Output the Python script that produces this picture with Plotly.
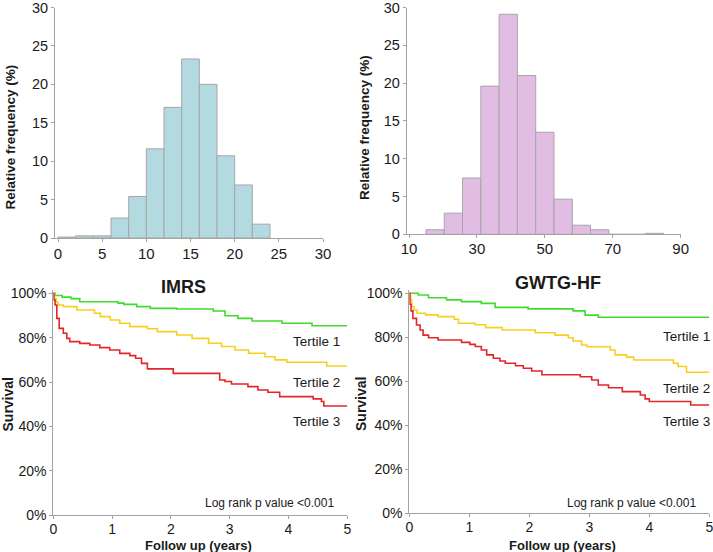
import plotly.graph_objects as go

W, H = 713, 552
PAD = 10                    # extra paper so edge tick labels are not dropped
PW, PH = W + PAD, H + PAD
FONT = "Liberation Sans, Arial, sans-serif"
TXT = "#1a1a1a"
AX = "#a3a3a3"

# ---------------- data ----------------
imrs_edges = [0, 2, 4, 6, 8, 10, 12, 14, 16, 18, 20, 22, 24]
imrs_freq = [0.12, 0.28, 0.28, 2.6, 5.4, 11.6, 17.0, 23.3, 20.0, 10.7, 6.9, 1.8]

gwtg_edges = [15.0, 20.38, 25.77, 31.15, 36.54, 41.92, 47.31, 52.69, 58.08, 63.46, 68.85, 74.23, 79.62, 85.0]
gwtg_freq = [0.6, 2.8, 7.45, 19.6, 29.1, 21.0, 13.5, 4.65, 1.2, 0.6, 0.0, 0.0, 0.13]

imrs_t1_t = [0, 0.03, 0.15, 0.3, 0.45, 1.1, 1.2, 1.42, 1.65, 2.1, 2.72, 2.92, 3.14, 3.38, 3.89, 4.4, 5.0]
imrs_t1_s = [100, 99.0, 98.3, 97.6, 96.2, 95.6, 95.0, 94.0, 93.2, 92.9, 92.0, 89.9, 88.7, 87.5, 86.5, 85.4, 85.4]

imrs_t2_t = [0, 0.02, 0.05, 0.08, 0.17, 0.4, 0.7, 0.8, 0.97, 1.13, 1.3, 1.6, 1.77, 2.1, 2.36, 2.64, 2.86, 3.09, 3.32, 3.6, 3.77, 3.97, 4.65, 5.0]
imrs_t2_s = [100, 97.5, 96.0, 94.7, 94.0, 92.5, 91.0, 89.5, 88.0, 86.5, 85.0, 84.0, 82.7, 81.2, 79.7, 77.5, 76.0, 74.4, 73.0, 71.4, 70.0, 68.9, 67.2, 67.2]

imrs_t3_t = [0, 0.01, 0.03, 0.06, 0.1, 0.17, 0.23, 0.28, 0.45, 0.62, 0.79, 0.96, 1.13, 1.3, 1.4, 1.5, 1.6, 2.04, 2.83, 2.92, 3.03, 3.31, 3.48, 3.65, 3.85, 4.42, 4.56, 4.6, 5.0]
imrs_t3_s = [100, 97.0, 94.7, 88.7, 84.2, 82.0, 79.7, 78.2, 77.4, 76.7, 75.5, 74.4, 72.9, 71.9, 70.7, 68.4, 65.9, 63.9, 60.9, 60.2, 59.1, 57.9, 56.4, 55.4, 53.4, 52.4, 51.2, 49.2, 49.2]

gwtg_t1_t = [0, 0.15, 0.32, 0.62, 0.87, 1.2, 1.43, 1.98, 2.73, 2.93, 3.15, 5.0]
gwtg_t1_s = [100, 99.2, 98.0, 97.0, 96.2, 95.4, 93.6, 92.9, 92.0, 90.1, 89.1, 89.1]

gwtg_t2_t = [0, 0.02, 0.04, 0.08, 0.13, 0.27, 0.48, 0.75, 0.82, 1.1, 1.27, 1.55, 2.1, 2.43, 2.65, 2.73, 2.87, 2.96, 3.35, 3.43, 3.62, 3.74, 4.4, 4.48, 4.62, 5.0]
gwtg_t2_s = [100, 97.0, 94.0, 92.4, 90.9, 90.2, 89.4, 88.2, 86.4, 85.7, 84.4, 83.3, 82.1, 81.0, 79.8, 78.3, 76.5, 75.7, 74.2, 72.0, 71.0, 69.7, 68.2, 66.7, 64.1, 64.1]

gwtg_t3_t = [0, 0.01, 0.03, 0.06, 0.12, 0.18, 0.23, 0.32, 0.48, 0.87, 1.01, 1.10, 1.2, 1.29, 1.4, 1.51, 1.6, 1.77, 1.9, 2.04, 2.21, 2.85, 3.04, 3.15, 3.32, 3.55, 3.85, 3.93, 4.0, 4.69, 5.0]
gwtg_t3_s = [100, 95.0, 92.0, 88.6, 85.6, 83.3, 81.0, 79.8, 78.8, 77.7, 76.8, 75.8, 74.2, 72.0, 70.5, 69.2, 68.2, 67.1, 65.9, 64.7, 63.0, 62.1, 60.6, 58.3, 57.1, 55.3, 53.8, 52.0, 50.8, 49.2, 49.2]

hist_y_ticks = [0, 5, 10, 15, 20, 25, 30]
imrs_x_ticks = [0, 5, 10, 15, 20, 25, 30]
gwtg_x_ticks = [10, 30, 50, 70, 90]
km_x_ticks = [0, 1, 2, 3, 4, 5]
km_y_ticks = [0, 20, 40, 60, 80, 100]
km_y_labels = ["0%", "20%", "40%", "60%", "80%", "100%"]

tertile_labels = ["Tertile 1", "Tertile 2", "Tertile 3"]
km_titles = ["IMRS", "GWTG-HF"]
pval_text = "Log rank p value <0.001"

GREEN, YELLOW, RED = "#3fdc2c", "#f6cf1f", "#e4262b"
BLUE_FILL, PINK_FILL = "#b3d9e1", "#e1bde4"

# ---------------- figure ----------------
fig = go.Figure()

def bars(edges, freq, color, xa, ya):
    centers = [(edges[i] + edges[i + 1]) / 2 for i in range(len(freq))]
    widths = [edges[i + 1] - edges[i] for i in range(len(freq))]
    fig.add_trace(go.Bar(x=centers, y=freq, width=widths, xaxis=xa, yaxis=ya,
                         marker=dict(color=color, line=dict(color="#a6a6a6", width=1)),
                         showlegend=False, hoverinfo="skip"))

bars(imrs_edges, imrs_freq, BLUE_FILL, "x", "y")
bars(gwtg_edges, gwtg_freq, PINK_FILL, "x2", "y2")

def km(t, s, color, xa, ya):
    fig.add_trace(go.Scatter(x=t, y=s, mode="lines", line=dict(color=color, width=1.6, shape="hv"),
                             xaxis=xa, yaxis=ya, showlegend=False, hoverinfo="skip"))

km(imrs_t1_t, imrs_t1_s, GREEN, "x3", "y3")
km(imrs_t2_t, imrs_t2_s, YELLOW, "x3", "y3")
km(imrs_t3_t, imrs_t3_s, RED, "x3", "y3")
km(gwtg_t1_t, gwtg_t1_s, GREEN, "x4", "y4")
km(gwtg_t2_t, gwtg_t2_s, YELLOW, "x4", "y4")
km(gwtg_t3_t, gwtg_t3_s, RED, "x4", "y4")

# pixel (in the 713x552 window) -> paper fraction; paper is shifted up by PAD px
def fx(x):
    return x / PW

def fy(y):
    return 1 - (y + PAD) / PH

def px(x0, x1):
    return [fx(x0), fx(x1)]

def py(top, bottom):
    return [fy(bottom), fy(top)]

def axis(domain, rng, anchor, size, **kw):
    d = dict(domain=domain, range=rng, anchor=anchor, showline=True, linecolor=AX, linewidth=1,
             ticks="outside", ticklen=3, tickcolor=AX, tickwidth=1, showgrid=False, zeroline=False,
             automargin=False, tickmode="array",
             tickfont=dict(family=FONT, size=size, color=TXT), fixedrange=True)
    d.update(kw)
    return d

fig.update_layout(
    template="none",
    width=PW, height=PH, margin=dict(l=0, r=0, t=0, b=0, pad=0), autosize=False,
    paper_bgcolor="white", plot_bgcolor="white", bargap=0,
    xaxis=axis(px(55, 323), [-0.34, 30], "y", 15, tickvals=imrs_x_ticks, ticklabelstandoff=-1),
    yaxis=axis(py(7.5, 238), [0, 30], "x", 14.5, tickvals=hist_y_ticks),
    xaxis2=axis(px(406.7, 680.7), [9.32, 90], "y2", 15, tickvals=gwtg_x_ticks, ticklabelstandoff=-2),
    yaxis2=axis(py(7.5, 234.3), [0, 30], "x2", 14.5, tickvals=hist_y_ticks),
    xaxis3=axis(px(53.3, 347.3), [0, 5], "y3", 14, tickvals=km_x_ticks, ticklabelstandoff=-2),
    yaxis3=axis(py(290, 515), [0, 101.5], "x3", 14, tickvals=km_y_ticks, ticktext=km_y_labels),
    xaxis4=axis(px(409.3, 709.3), [0, 5], "y4", 14, tickvals=km_x_ticks, ticklabelstandoff=-2),
    yaxis4=axis(py(290, 513.3), [0, 101.5], "x4", 14, tickvals=km_y_ticks, ticktext=km_y_labels),
)

def note(text, x, y, size, xanchor="center", angle=0, bold=False):
    fig.add_annotation(text=f"<b>{text}</b>" if bold else text, x=fx(x), y=fy(y),
                       xref="paper", yref="paper", xanchor=xanchor, yanchor="middle",
                       textangle=angle, showarrow=False, borderpad=0,
                       font=dict(family=FONT, size=size, color=TXT))

note("Relative frequency (%)", 9.5, 137, 13.5, angle=-90, bold=True)
note("Relative frequency (%)", 364, 128, 13.5, angle=-90, bold=True)
note("Survival", 7.5, 405, 14, angle=-90, bold=True)
note("Survival", 361, 404, 14, angle=-90, bold=True)
note("Follow up (years)", 198, 545, 13, bold=True)
note("Follow up (years)", 562, 545, 13, bold=True)
note(km_titles[0], 183, 287, 18, bold=True)
note(km_titles[1], 558, 283, 18, bold=True)

for lbl, y in zip(tertile_labels, [341.5, 382.5, 421.7]):
    note(lbl, 341, y, 13.5, xanchor="right")
for lbl, y in zip(tertile_labels, [336, 388.5, 421]):
    note(lbl, 711, y, 13.5, xanchor="right")
note(pval_text, 335, 502.5, 12, xanchor="right")
note(pval_text, 697, 502.5, 12, xanchor="right")

fig.write_html(
    "out.html", config={"displayModeBar": False, "staticPlot": True},
    post_script=("document.body.style.margin='0';document.body.style.overflow='hidden';"
                 f"document.querySelectorAll('.plotly-graph-div').forEach(function(d){{d.style.marginTop='-{PAD}px';}});"))
